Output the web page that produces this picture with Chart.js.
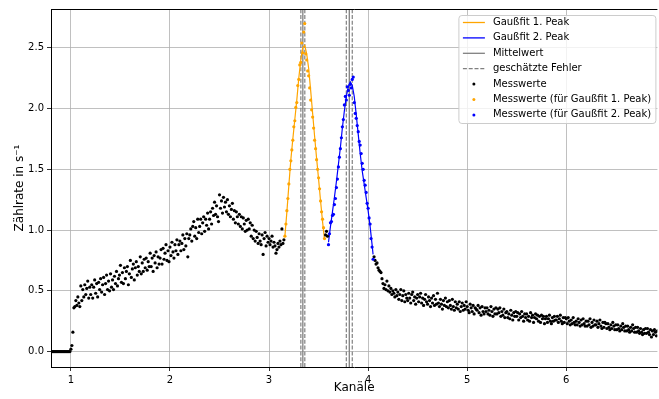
<!DOCTYPE html>
<html>
<head>
<meta charset="utf-8">
<script src="https://cdn.jsdelivr.net/npm/chart.js@4.4.1/dist/chart.umd.min.js"></script>
<style>
  html, body { margin: 0; padding: 0; background: #fff; }
  #wrap { width: 659px; height: 399px; }
</style>
</head>
<body>
<div id="wrap"><canvas id="zaehlrate" width="659" height="399"></canvas></div>
<script>
// Kanäle: Messwerte im Abstand von 0.01, beginnend bei 0.80
const KANAL_START = 0.80;
const KANAL_SCHRITT = 0.01;

// Zählrate in 1/s, eine Zeile = 10 Kanäle
const MESS_Y = [
  0, 0, 0, 0, 0, 0, 0, 0, 0, 0,                                  // 0.8
  0, 0, 0, 0, 0, 0, 0, 0, 0, 0,                                  // 0.9
  0.02, 0.05, 0.16, 0.36, 0.37, 0.42, 0.38, 0.45, 0.40, 0.37,    // 1.0
  0.54, 0.42, 0.51, 0.45, 0.55, 0.47, 0.52, 0.58, 0.44, 0.53,    // 1.1
  0.47, 0.55, 0.44, 0.53, 0.59, 0.48, 0.56, 0.45, 0.57, 0.51,    // 1.2
  0.60, 0.49, 0.55, 0.61, 0.47, 0.56, 0.63, 0.51, 0.58, 0.50,    // 1.3
  0.64, 0.53, 0.59, 0.51, 0.62, 0.56, 0.66, 0.54, 0.60, 0.63,    // 1.4
  0.71, 0.57, 0.65, 0.56, 0.69, 0.60, 0.66, 0.70, 0.55, 0.64,    // 1.5
  0.75, 0.61, 0.68, 0.72, 0.59, 0.69, 0.74, 0.63, 0.70, 0.66,    // 1.6
  0.78, 0.64, 0.73, 0.66, 0.76, 0.69, 0.77, 0.67, 0.74, 0.70,    // 1.7
  0.81, 0.70, 0.77, 0.66, 0.79, 0.73, 0.82, 0.69, 0.78, 0.72,    // 1.8
  0.77, 0.84, 0.72, 0.85, 0.76, 0.81, 0.88, 0.75, 0.83, 0.74,    // 1.9
  0.86, 0.79, 0.90, 0.82, 0.77, 0.88, 0.83, 0.92, 0.80, 0.88,    // 2.0
  0.91, 0.83, 0.89, 0.96, 0.84, 0.93, 0.87, 0.97, 0.78, 0.93,    // 2.1
  0.96, 1.01, 0.91, 1.03, 1.07, 0.95, 1.02, 0.93, 1.09, 0.98,    // 2.2
  1.03, 1.09, 0.97, 1.06, 1.11, 0.99, 1.09, 1.04, 1.14, 1.01,    // 2.3
  1.09, 1.15, 1.05, 1.18, 1.12, 1.23, 1.13, 1.20, 1.11, 1.07,    // 2.4
  1.29, 1.18, 1.24, 1.14, 1.27, 1.19, 1.23, 1.15, 1.25, 1.13,    // 2.5
  1.20, 1.11, 1.17, 1.22, 1.09, 1.16, 1.06, 1.15, 1.11, 1.05,    // 2.6
  1.13, 1.03, 1.11, 1.01, 1.10, 1.05, 0.99, 1.08, 1.00, 1.09,    // 2.7
  1.01, 1.06, 0.95, 1.04, 0.93, 1.00, 0.91, 0.99, 0.94, 0.89,    // 2.8
  0.97, 0.91, 0.88, 0.96, 0.80, 0.93, 0.98, 0.87, 0.95, 0.90,    // 2.9
  0.93, 0.88, 0.91, 0.95, 0.86, 0.90, 0.87, 0.81, 0.84, 0.89,    // 3.0
  0.86, 0.91, 0.88, 1.01, 0.89, 0.92, 0.95, 1.05, 1.16, 1.26,    // 3.1
  1.38, 1.50, 1.57, 1.66, 1.74, 1.85, 1.90, 2.01, 2.05, 2.19,    // 3.2
  2.24, 2.36, 2.38, 2.54, 2.46, 2.63, 2.70, 2.45, 2.40, 2.31,    // 3.3
  2.27, 2.17, 2.07, 1.99, 1.93, 1.84, 1.74, 1.67, 1.58, 1.50,    // 3.4
  1.43, 1.34, 1.24, 1.15, 1.09, 1.02, 0.93, 0.96, 0.99, 0.95,    // 3.5
  0.88, 0.97, 1.06, 1.07, 1.12, 1.13, 1.21, 1.26, 1.35, 1.42,    // 3.6
  1.52, 1.60, 1.67, 1.76, 1.85, 1.91, 2.03, 2.10, 2.07, 2.18,    // 3.7
  2.15, 2.11, 2.20, 2.17, 2.24, 2.26, 2.05, 1.96, 1.92, 1.86,    // 3.8
  1.81, 1.73, 1.70, 1.63, 1.55, 1.50, 1.41, 1.37, 1.31, 1.22,    // 3.9
  1.18, 1.10, 1.05, 0.93, 0.86, 0.76, 0.78, 0.75, 0.72, 0.73,    // 4.0
  0.69, 0.67, 0.66, 0.65, 0.60, 0.56, 0.52, 0.55, 0.51, 0.58,    // 4.1
  0.50, 0.54, 0.49, 0.52, 0.47, 0.50, 0.48, 0.45, 0.51, 0.46,    // 4.2
  0.49, 0.43, 0.47, 0.51, 0.42, 0.46, 0.50, 0.41, 0.47, 0.44,    // 4.3
  0.42, 0.48, 0.44, 0.40, 0.47, 0.49, 0.42, 0.45, 0.39, 0.44,    // 4.4
  0.47, 0.41, 0.45, 0.48, 0.40, 0.44, 0.38, 0.43, 0.47, 0.41,    // 4.5
  0.39, 0.45, 0.42, 0.37, 0.44, 0.40, 0.46, 0.38, 0.43, 0.39,    // 4.6
  0.48, 0.40, 0.37, 0.43, 0.39, 0.35, 0.42, 0.38, 0.44, 0.37,    // 4.7
  0.41, 0.36, 0.42, 0.38, 0.35, 0.43, 0.37, 0.34, 0.41, 0.36,    // 4.8
  0.39, 0.35, 0.41, 0.33, 0.37, 0.40, 0.34, 0.38, 0.35, 0.41,    // 4.9
  0.37, 0.34, 0.32, 0.39, 0.36, 0.33, 0.38, 0.31, 0.36, 0.35,    // 5.0
  0.34, 0.38, 0.32, 0.36, 0.30, 0.37, 0.33, 0.31, 0.36, 0.33,    // 5.1
  0.36, 0.31, 0.34, 0.30, 0.37, 0.33, 0.29, 0.35, 0.31, 0.36,    // 5.2
  0.31, 0.35, 0.32, 0.36, 0.29, 0.33, 0.30, 0.35, 0.28, 0.32,    // 5.3
  0.33, 0.28, 0.31, 0.27, 0.34, 0.30, 0.26, 0.32, 0.29, 0.33,    // 5.4
  0.29, 0.32, 0.26, 0.31, 0.28, 0.33, 0.29, 0.25, 0.31, 0.28,    // 5.5
  0.31, 0.26, 0.29, 0.25, 0.32, 0.28, 0.30, 0.24, 0.28, 0.31,    // 5.6
  0.27, 0.30, 0.25, 0.29, 0.24, 0.30, 0.27, 0.29, 0.23, 0.27,    // 5.7
  0.29, 0.24, 0.27, 0.30, 0.25, 0.23, 0.28, 0.25, 0.29, 0.26,    // 5.8
  0.26, 0.29, 0.24, 0.27, 0.30, 0.25, 0.23, 0.28, 0.24, 0.28,    // 5.9
  0.27, 0.23, 0.28, 0.25, 0.22, 0.26, 0.23, 0.28, 0.24, 0.22,    // 6.0
  0.25, 0.22, 0.27, 0.24, 0.21, 0.26, 0.22, 0.27, 0.23, 0.21,    // 6.1
  0.25, 0.21, 0.25, 0.22, 0.27, 0.20, 0.24, 0.21, 0.26, 0.22,    // 6.2
  0.22, 0.25, 0.20, 0.23, 0.26, 0.21, 0.19, 0.24, 0.20, 0.24,    // 6.3
  0.23, 0.19, 0.23, 0.20, 0.18, 0.22, 0.19, 0.24, 0.21, 0.18,    // 6.4
  0.22, 0.18, 0.22, 0.19, 0.17, 0.21, 0.18, 0.23, 0.20, 0.17,    // 6.5
  0.21, 0.17, 0.21, 0.18, 0.16, 0.20, 0.17, 0.22, 0.19, 0.16,    // 6.6
  0.20, 0.16, 0.20, 0.17, 0.15, 0.19, 0.16, 0.14, 0.18, 0.15,    // 6.7
  0.19, 0.15, 0.19, 0.16, 0.14, 0.18, 0.12, 0.17, 0.14, 0.18,    // 6.8
  0.16, 0.13, 0.17, 0.14                                          // 6.9
];

// Kanalbereiche, die für die Gaußfits benutzt wurden
const PEAK1_BEREICH = [3.16, 3.56];
const PEAK2_BEREICH = [3.60, 4.05];

// Gaußfits
const FIT1_X = [3.16, 3.18, 3.20, 3.22, 3.24, 3.26, 3.28, 3.30, 3.32, 3.34, 3.36,
                3.38, 3.40, 3.42, 3.44, 3.46, 3.48, 3.50, 3.52, 3.54, 3.56];
const FIT1_Y = [0.95, 1.15, 1.37, 1.58, 1.75, 1.91, 2.07, 2.25, 2.40, 2.50, 2.52,
                2.45, 2.33, 2.15, 1.96, 1.77, 1.59, 1.42, 1.24, 1.07, 0.92];
const FIT2_X = [3.60, 3.62, 3.64, 3.66, 3.68, 3.70, 3.72, 3.74, 3.76, 3.78, 3.80, 3.82,
                3.84, 3.86, 3.88, 3.90, 3.92, 3.94, 3.96, 3.98, 4.00, 4.02, 4.04, 4.05];
const FIT2_Y = [0.90, 1.03, 1.15, 1.27, 1.40, 1.54, 1.68, 1.84, 1.98, 2.10, 2.18, 2.22,
                2.19, 2.10, 1.95, 1.79, 1.63, 1.49, 1.38, 1.27, 1.16, 1.03, 0.88, 0.80];

// Mittelwerte der Peaks und geschätzte Fehler
const MITTELWERTE = [3.341, 3.810];
const FEHLER = [0.020, 0.030];

// Achsen
const X_MIN = 0.799, X_MAX = 6.92;
const Y_MIN = -0.127, Y_MAX = 2.82;
const X_TICKS = [1, 2, 3, 4, 5, 6];
const Y_TICKS = [0, 0.5, 1.0, 1.5, 2.0, 2.5];

const ORANGE = '#ffa500';
const BLAU = '#0000ff';
const GRAU = '#808080';
const SCHRIFT = '"DejaVu Sans", sans-serif';

function inBereich(x, b) {
    return x >= b[0] - 1e-6 && x <= b[1] + 1e-6;
}

const messAlle = MESS_Y.map((y, i) => ({ x: +(KANAL_START + i * KANAL_SCHRITT).toFixed(2), y }));
const messPeak1 = messAlle.filter(p => inBereich(p.x, PEAK1_BEREICH));
const messPeak2 = messAlle.filter(p => inBereich(p.x, PEAK2_BEREICH));
const messRest = messAlle.filter(p => !inBereich(p.x, PEAK1_BEREICH) && !inBereich(p.x, PEAK2_BEREICH));

function punkte(label, data, farbe) {
    return {
        label, data,
        backgroundColor: farbe, borderColor: farbe,
        pointRadius: 1.6, pointBorderWidth: 0, pointHoverRadius: 1.6,
        showLine: false
    };
}

function linie(label, xs, ys, farbe, breite, dash) {
    return {
        label,
        data: xs.map((x, i) => ({ x, y: ys[i] })),
        borderColor: farbe, backgroundColor: farbe,
        borderWidth: breite, borderDash: dash || [],
        pointRadius: 0, showLine: true, fill: false, tension: 0
    };
}

const datasets = [
    punkte('Messwerte (für Gaußfit 2. Peak)', messPeak2, BLAU),
    punkte('Messwerte (für Gaußfit 1. Peak)', messPeak1, ORANGE),
    punkte('Messwerte', messRest, '#000000'),
    linie('Gaußfit 2. Peak', FIT2_X, FIT2_Y, BLAU, 1.2),
    linie('Gaußfit 1. Peak', FIT1_X, FIT1_Y, ORANGE, 1.2)
];
MITTELWERTE.forEach((m, i) => {
    datasets.push(linie('Mittelwert', [m, m], [Y_MIN, Y_MAX], GRAU, 1.3));
    [m - FEHLER[i], m + FEHLER[i]].forEach(f => {
        datasets.push(linie('geschätzte Fehler', [f, f], [Y_MIN, Y_MAX], GRAU, 1.2, [4, 1.8]));
    });
});

const LEGENDE = [
    { text: 'Gaußfit 1. Peak', art: 'linie', farbe: ORANGE },
    { text: 'Gaußfit 2. Peak', art: 'linie', farbe: BLAU },
    { text: 'Mittelwert', art: 'linie', farbe: GRAU },
    { text: 'geschätzte Fehler', art: 'strich', farbe: GRAU },
    { text: 'Messwerte', art: 'punkt', farbe: '#000000' },
    { text: 'Messwerte (für Gaußfit 1. Peak)', art: 'punkt', farbe: ORANGE },
    { text: 'Messwerte (für Gaußfit 2. Peak)', art: 'punkt', farbe: BLAU }
];

// Rahmen oben + Legende wie bei matplotlib
const rahmenUndLegende = {
    id: 'rahmenUndLegende',
    afterDraw(chart) {
        const ctx = chart.ctx;
        const ca = chart.chartArea;
        ctx.save();
        ctx.strokeStyle = '#000';
        ctx.lineWidth = 1;
        ctx.beginPath();
        ctx.moveTo(ca.left, ca.top + 0.5);
        ctx.lineTo(ca.right, ca.top + 0.5);
        ctx.stroke();

        const bx = ca.right - 198.5, by = ca.top + 6.5, bw = 197, bh = 108, r = 3;
        ctx.beginPath();
        ctx.moveTo(bx + r, by);
        ctx.arcTo(bx + bw, by, bx + bw, by + bh, r);
        ctx.arcTo(bx + bw, by + bh, bx, by + bh, r);
        ctx.arcTo(bx, by + bh, bx, by, r);
        ctx.arcTo(bx, by, bx + bw, by, r);
        ctx.closePath();
        ctx.fillStyle = 'rgba(255,255,255,0.8)';
        ctx.fill();
        ctx.strokeStyle = '#cccccc';
        ctx.stroke();

        ctx.font = '10px ' + SCHRIFT;
        ctx.textBaseline = 'middle';
        LEGENDE.forEach((e, i) => {
            const y = by + 7 + i * 15.4;
            if (e.art === 'punkt') {
                ctx.fillStyle = e.farbe;
                ctx.beginPath();
                ctx.arc(bx + 15, y, 1.5, 0, Math.PI * 2);
                ctx.fill();
            } else {
                ctx.strokeStyle = e.farbe;
                ctx.lineWidth = 1.3;
                ctx.setLineDash(e.art === 'strich' ? [4, 1.8] : []);
                ctx.beginPath();
                ctx.moveTo(bx + 4, y);
                ctx.lineTo(bx + 26, y);
                ctx.stroke();
                ctx.setLineDash([]);
            }
            ctx.fillStyle = '#000';
            ctx.fillText(e.text, bx + 34, y);
        });
        ctx.restore();
    }
};

new Chart(document.getElementById('zaehlrate'), {
    type: 'scatter',
    data: { datasets },
    plugins: [rahmenUndLegende],
    options: {
        responsive: false,
        animation: false,
        devicePixelRatio: 1,
        layout: { padding: { top: 8, right: 0, bottom: 0, left: 0 } },
        plugins: { legend: { display: false }, tooltip: { enabled: false } },
        scales: {
            x: {
                type: 'linear', min: X_MIN, max: X_MAX,
                afterBuildTicks: s => { s.ticks = X_TICKS.map(v => ({ value: v })); },
                afterFit: s => { s.height = 32; },
                ticks: { color: '#000', font: { family: SCHRIFT, size: 10 }, padding: 3, maxRotation: 0,
                         callback: v => String(v) },
                grid: { color: '#b0b0b0', lineWidth: 0.8, tickLength: 4, tickColor: '#000', tickWidth: 0.8 },
                border: { color: '#000', width: 1 },
                title: { display: true, text: 'Kanäle', color: '#000',
                         font: { family: SCHRIFT, size: 12 }, padding: { top: 0, bottom: 4 } }
            },
            y: {
                type: 'linear', min: Y_MIN, max: Y_MAX,
                afterBuildTicks: s => { s.ticks = Y_TICKS.map(v => ({ value: v })); },
                afterFit: s => { s.width = 51; },
                ticks: { color: '#000', font: { family: SCHRIFT, size: 10 }, padding: 3,
                         callback: v => Number(v).toFixed(1) },
                grid: { color: '#b0b0b0', lineWidth: 0.8, tickLength: 4, tickColor: '#000', tickWidth: 0.8 },
                border: { color: '#000', width: 1 },
                title: { display: true, text: 'Zählrate in s⁻¹', color: '#000',
                         font: { family: SCHRIFT, size: 12 }, padding: { top: 13, bottom: 0 } }
            }
        }
    }
});
</script>
</body>
</html>
